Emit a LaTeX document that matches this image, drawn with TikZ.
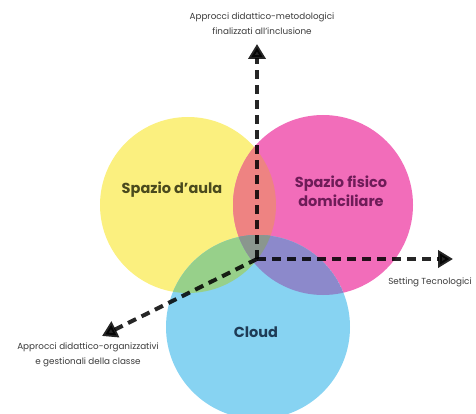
\documentclass[tikz,border=0pt]{standalone}
\usepackage{fontspec}
\setmainfont{Poppins}
\usetikzlibrary{arrows.meta}
\definecolor{aulaY}{HTML}{FBF07F}
\definecolor{casaP}{HTML}{F26DBA}
\definecolor{cloudC}{HTML}{87D3F2}
\definecolor{mixYP}{HTML}{EE8382}
\definecolor{mixYC}{HTML}{97D08A}
\definecolor{mixPC}{HTML}{8C89CB}
\definecolor{mixAll}{HTML}{8A968E}
\definecolor{txtY}{HTML}{4A4A1E}
\definecolor{txtP}{HTML}{6E1C58}
\definecolor{txtC}{HTML}{1E3B56}
\definecolor{txtAx}{HTML}{3A3A3A}
\begin{document}
\begin{tikzpicture}[x=1pt, y=-1pt,
  axis/.style={line width=4pt, dash pattern=on 9pt off 6pt, opacity=0.85,
    -{Triangle[length=15pt, width=17pt]}},
  axlabel/.style={align=center, font=\fontsize{8.8}{15}\selectfont, text=txtAx},
  setlabel/.style={align=center, font=\fontsize{14.5}{19}\selectfont\bfseries}]
\useasboundingbox (0,0) rectangle (476,414);
\clip (0,0) rectangle (476,414);
\coordinate (cy) at (188,205);
\coordinate (cp) at (323,205);
\coordinate (cc) at (258,327);
\coordinate (o) at (257,259);
\coordinate (up) at (257,44);
\coordinate (right) at (453,259);
\coordinate (down) at (102,336);

\fill[aulaY] (cy) circle (88);
\fill[casaP] (cp) circle (90);
\fill[cloudC] (cc) circle (92);
\begin{scope}
  \clip (cy) circle (88);
  \fill[mixYP] (cp) circle (90);
  \fill[mixYC] (cc) circle (92);
  \clip (cp) circle (90);
  \fill[mixAll] (cc) circle (92);
\end{scope}
\begin{scope}
  \clip (cp) circle (90);
  \clip (cc) circle (92);
  \fill[mixPC] (cc) circle (92);
  \clip (cy) circle (88);
  \fill[mixAll] (cc) circle (92);
\end{scope}

\draw[axis] (o) -- (up);
\draw[axis] (o) -- (right);
\draw[axis] (o) -- (down);

\node[setlabel, text=txtY] (aula) at (172,190) {Spazio d'aula};
\node[setlabel, text=txtP] (casa) at (341,191) {Spazio fisico\\domiciliare};
\node[setlabel, text=txtC] (cloud) at (256,332) {Cloud};
\node[axlabel] (metod) at (262,24) {Approcci didattico-metodologici\\finalizzati all'inclusione};
\node[axlabel] (tecno) at (430,282) {Setting Tecnologici};
\node[axlabel] (organ) at (88,355) {Approcci didattico-organizzativi\\e gestionali della classe};
\end{tikzpicture}
\end{document}
